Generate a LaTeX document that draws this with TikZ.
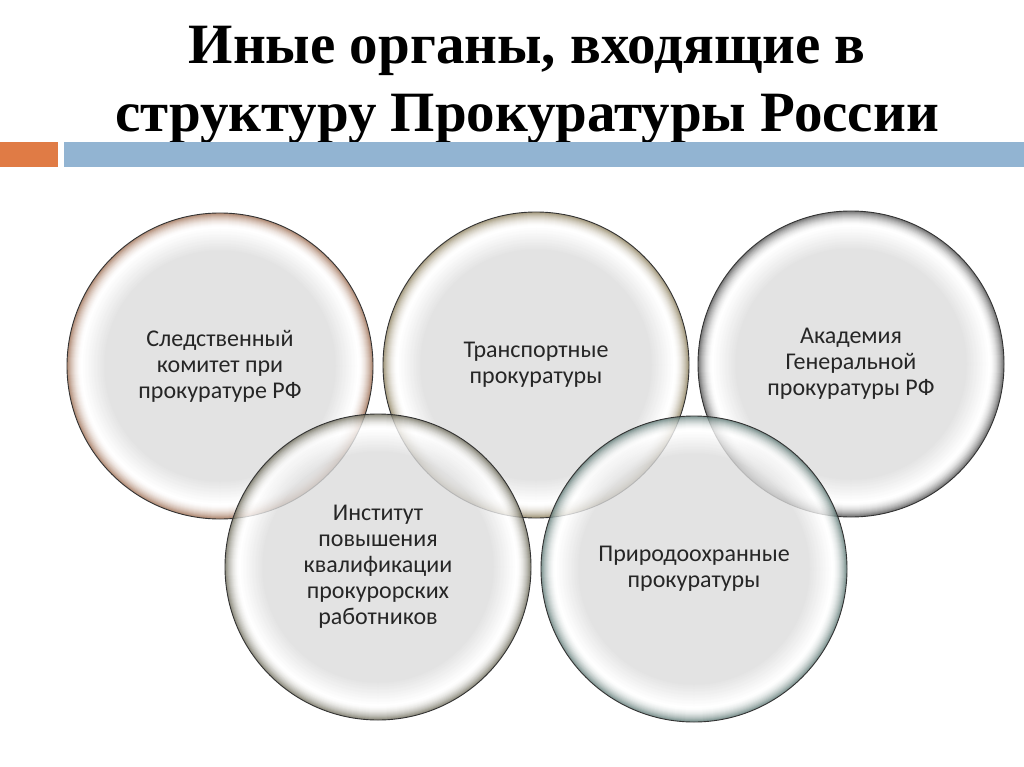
\documentclass[tikz,border=0pt]{standalone}
\usepackage{fontspec}
\setmainfont{Liberation Serif}
\newfontfamily\calfont{Carlito}
\usetikzlibrary{positioning}

\definecolor{barorange}{HTML}{E07B45}
\definecolor{barblue}{HTML}{92B4D2}
\definecolor{inside}{gray}{0.86}
\definecolor{ringred}{HTML}{9A684C}
\definecolor{ringolive}{HTML}{8A7C58}
\definecolor{ringgray}{HTML}{4E4E4E}
\definecolor{ringsage}{HTML}{6C6A58}
\definecolor{ringteal}{HTML}{587470}

\begin{document}
\begin{tikzpicture}[x=1pt,y=-1pt,
  ring/.style={circle,minimum size=306pt,inner sep=0pt,draw=black!80,line width=0.9pt,
    align=center,font=\calfont\fontsize{24}{26}\selectfont,text=black!85}]

\useasboundingbox (0,0) rectangle (1024,767);

\node[anchor=base,align=center,font=\bfseries\fontsize{57}{68}\selectfont] (title) at (527,132)
  {Иные органы, входящие в\\структуру Прокуратуры России};

\fill[barorange] (0,142) rectangle (58,167);
\fill[barblue] (64,142) rectangle (1024,167);

\coordinate (p1) at (220,366);
\coordinate (p2) at (536,365);
\coordinate (p3) at (851,364);
\coordinate (p4) at (378,567);
\coordinate (p5) at (694,569);

% soft glow of each ring, upper row first
\foreach \p/\c/\t/\n in {p1/ringred/{Следственный\\комитет при\\прокуратуре РФ}/c1,
    p2/ringolive/{Транспортные\\прокуратуры}/c2,
    p3/ringgray/{Академия\\Генеральной\\прокуратуры РФ}/c3,
    p4/ringsage/{Институт\\повышения\\квалификации\\прокурорских\\работников}/c4,
    p5/ringteal/{Природоохранные\\прокуратуры}/c5}{
  \begin{scope}[transparency group,opacity=0.78]
    \foreach \d in {0,...,38}{
      \pgfmathtruncatemacro\pa{100*max(0,1-\d/15)^2}
      \pgfmathtruncatemacro\pb{100*min(1,max(0,(\d-15)/23))}
      \ifnum\d<15 \colorlet{glow}{\c!\pa!white}\else\colorlet{glow}{inside!\pb!white}\fi
      \fill[glow] (\p) circle[radius=153-\d];
    }
    \fill[inside] (\p) circle[radius=115];
  \end{scope}
  \node[ring] (\n) at (\p) {\t};
}

\end{tikzpicture}
\end{document}
